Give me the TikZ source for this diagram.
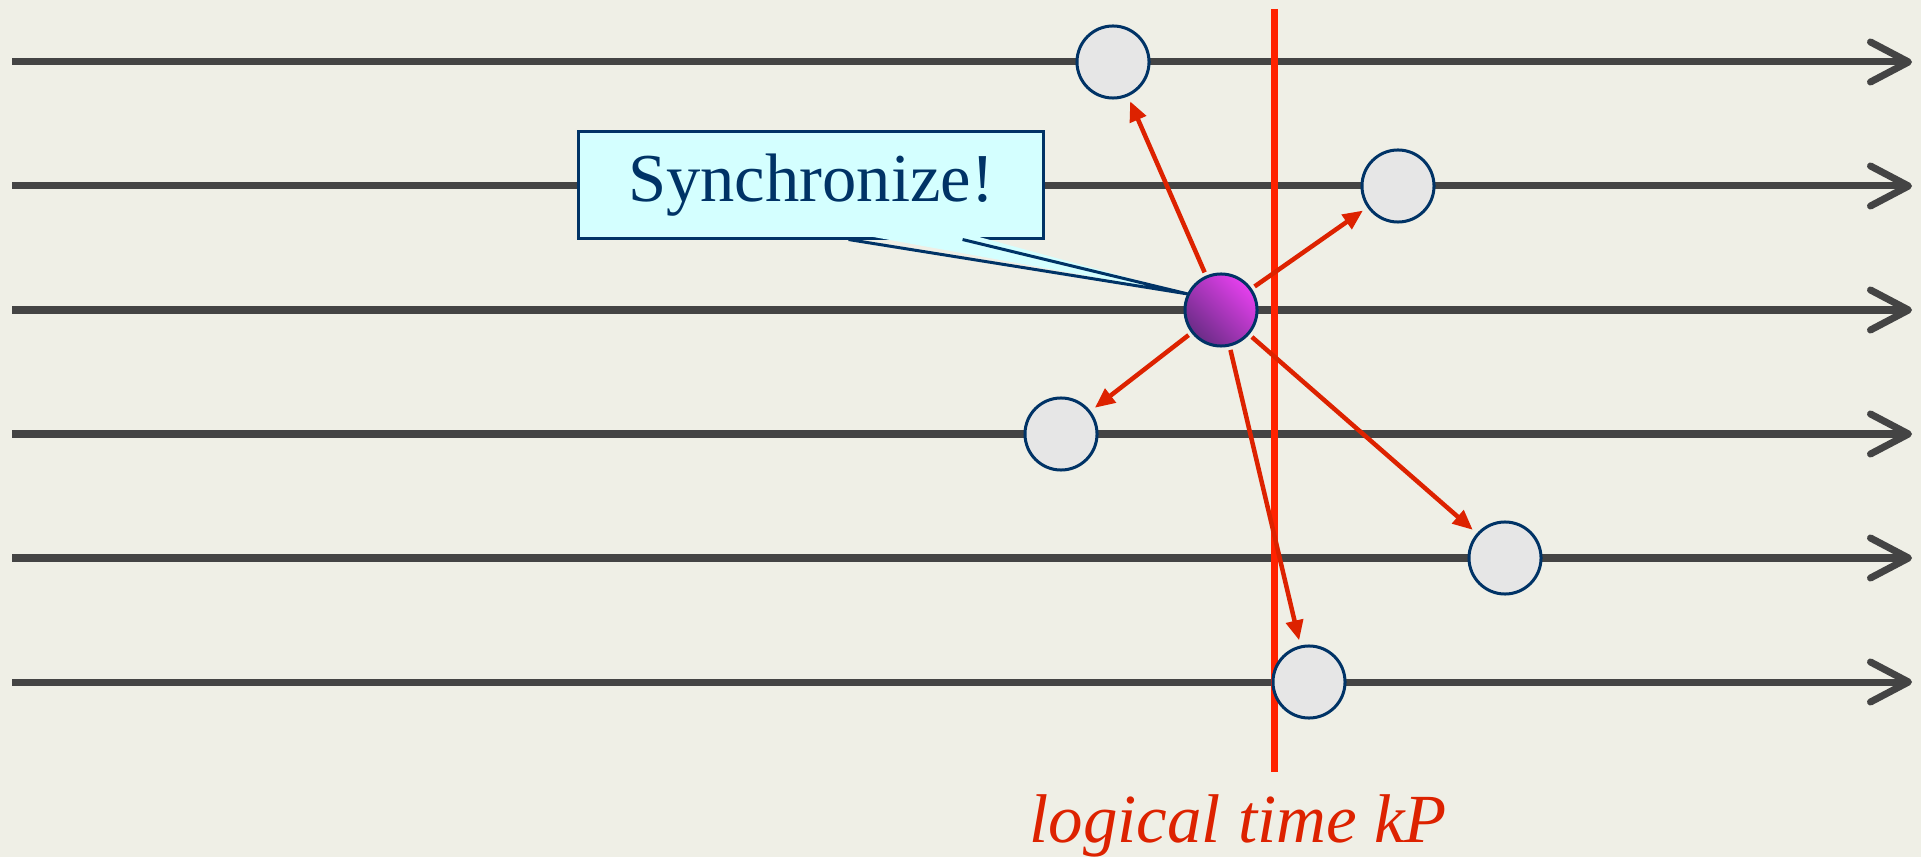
\documentclass[tikz,border=0pt]{standalone}
\usepackage{fontspec}
\setmainfont{Liberation Serif}
\usetikzlibrary{arrows.meta,positioning,calc}
\definecolor{paper}{HTML}{EFEFE6}
\definecolor{axisgray}{HTML}{444444}
\definecolor{navy}{HTML}{003366}
\definecolor{msgcyan}{HTML}{D4FFFF}
\definecolor{arrowred}{HTML}{DD2200}
\definecolor{cutred}{HTML}{FF2200}
\definecolor{eventgray}{HTML}{E6E6E6}
\definecolor{synctop}{HTML}{E640EE}
\definecolor{syncbot}{HTML}{6A2C86}

\begin{document}
\begin{tikzpicture}[x=0.01cm,y=0.01cm,>=Stealth,
  timeline/.style={draw=axisgray,line width=0.07cm,
    -{Straight Barb[round,length=0.38cm,width=0.4cm]}},
  event/.style={circle,draw=navy,line width=0.03cm,fill=eventgray,
    minimum size=0.72cm,inner sep=0pt},
  syncdot/.style={event,top color=synctop,bottom color=syncbot,shading angle=-45},
  msgarrow/.style={draw=arrowred,line width=0.045cm,
    -{Triangle[length=0.2cm,width=0.17cm]},shorten <=1pt,shorten >=1.5pt},
  msgbox/.style={draw=navy,line width=0.03cm,fill=msgcyan,text=navy,
    minimum width=4.64cm,minimum height=1.06cm,inner sep=0pt,
    font=\fontsize{19.5}{22}\selectfont}]
\useasboundingbox[fill=paper] (0,0) rectangle (1921,857);
% process time lines
\foreach \y in {795,671,547,423,299,175}
  \draw[timeline] (12,\y) -- (1912,\y);
% the cut at logical time kP
\draw[cutred,line width=0.07cm] (1274,848) -- (1274,85);
\node[text=arrowred,anchor=base,font=\fontsize{19.6}{22}\selectfont\itshape]
  (cutlabel) at (1238,15) {logical time kP};
% events
\node[event] (p1) at (1113,795) {};
\node[event] (p2) at (1398,671) {};
\node[syncdot] (sync) at (1221,547) {};
\node[event] (p4) at (1061,423) {};
\node[event] (p5) at (1505,299) {};
\node[event] (p6) at (1309,175) {};
% messages
\foreach \p in {p1,p2,p4,p5,p6}
  \draw[msgarrow] (sync) -- (\p);
% callout
\node[msgbox] (msg) at (811,672) {Synchronize!};
\coordinate (tip) at (1188,563);
\fill[msgcyan] ([xshift=2.71cm,yshift=2pt]msg.south west) -- (tip)
  -- ([xshift=3.85cm,yshift=2pt]msg.south west) -- cycle;
\draw[navy,line width=0.03cm] ([xshift=2.71cm]msg.south west) -- (tip)
  -- ([xshift=3.85cm]msg.south west);
\end{tikzpicture}
\end{document}
